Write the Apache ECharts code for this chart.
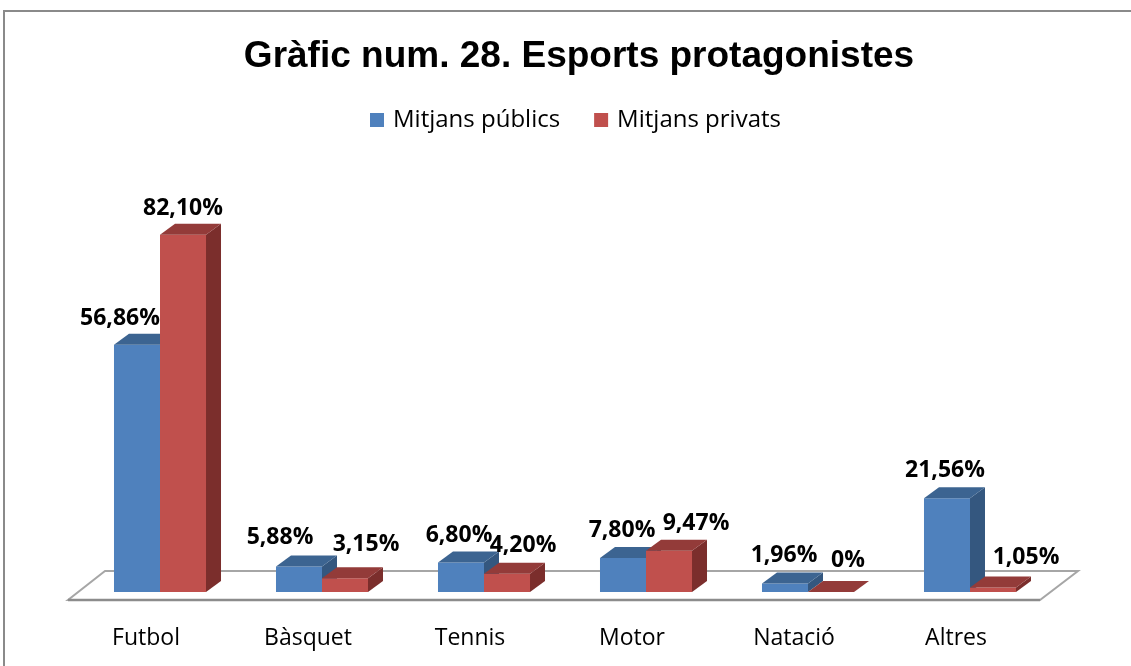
<!DOCTYPE html>
<html>
<head>
<meta charset="utf-8">
<script src="https://cdn.jsdelivr.net/npm/echarts@6/dist/echarts.min.js"></script>
<style>
  html, body { margin: 0; padding: 0; background: #fff; overflow: hidden; }
  #chart { width: 1131px; height: 666px; }
  .frame { position: absolute; left: 3px; top: 10px; width: 1200px; height: 700px;
           border: 2px solid #8a8a8a; pointer-events: none; box-sizing: border-box; }
</style>
</head>
<body>
<div id="chart"></div>
<div class="frame"></div>
<script>
var categories = ['Futbol', 'Bàsquet', 'Tennis', 'Motor', 'Natació', 'Altres'];
var publics = [56.86, 5.88, 6.80, 7.80, 1.96, 21.56];
var privats = [82.10, 3.15, 4.20, 9.47, 0, 1.05];
var seriesNames = ['Mitjans públics', 'Mitjans privats'];

// label nudges (px), the excel labels were moved by hand
var labelDx = [[-17, -19, -2, -1, -1, -2], [0, 21, 16, 27, 17, 33]];
var labelUp = [[15, 18, 16, 17, 17, 17], [15, 23, 17, 16, 21, 19]];

var colors = [
  { front: '#4f81bd', top: '#3c6491', side: '#34577f' },
  { front: '#c0504d', top: '#933b39', side: '#7b2e2c' }
];
var DX = 15, DY = 11;
var FONT = '"Open Sans", "Noto Sans", sans-serif';

function fmt(v) {
  return v === 0 ? '0%' : v.toFixed(2).replace('.', ',') + '%';
}

function barRenderer(s) {
  return function (params, api) {
    var i = api.value(0);
    var v = api.value(1);
    var base = api.coord([i, 0]);
    var top = api.coord([i, v]);
    var w = api.size([1, 0])[0] * 0.284;
    var x0 = s === 0 ? base[0] - w : base[0];
    var x1 = x0 + w;
    var yB = base[1], yT = top[1];
    var c = colors[s];
    var kids = [
      { type: 'polygon', shape: { points: [[x1, yT], [x1 + DX, yT - DY], [x1 + DX, yB - DY], [x1, yB]] },
        style: { fill: c.side } },
      { type: 'rect', shape: { x: x0, y: yT, width: w, height: yB - yT }, style: { fill: c.front } },
      { type: 'polygon', shape: { points: [[x0, yT], [x1, yT], [x1 + DX, yT - DY], [x0 + DX, yT - DY]] },
        style: { fill: c.top } },
      { type: 'text', z2: 10, style: {
          text: fmt(v), x: (x0 + x1) / 2 + labelDx[s][i], y: yT - DY - labelUp[s][i],
          align: 'center', verticalAlign: 'middle', fill: '#000',
          font: 'bold 23px ' + FONT } }
    ];
    return { type: 'group', children: kids };
  };
}

var chart = echarts.init(document.getElementById('chart'));
chart.setOption({
  animation: false,
  title: {
    text: 'Gràfic num. 28. Esports protagonistes',
    left: 574, top: 33, textAlign: 'center',
    textStyle: { fontFamily: 'Liberation Sans, Arial, sans-serif', fontWeight: 'bold', fontSize: 37, color: '#000' }
  },
  legend: {
    top: 103, left: 365,
    icon: 'rect', itemWidth: 14, itemHeight: 14, itemGap: 34,
    data: seriesNames,
    textStyle: { fontFamily: FONT, fontSize: 24, color: '#000', padding: [0, 0, 0, 4] }
  },
  grid: { left: 79, right: 80, top: 157, bottom: 74 },
  xAxis: {
    type: 'category', data: categories,
    axisLine: { show: false }, axisTick: { show: false },
    axisLabel: { margin: 35, padding: [0, 28, 0, 0], fontFamily: FONT, fontSize: 23, color: '#000' }
  },
  yAxis: { type: 'value', min: 0, max: 100, show: false, splitLine: { show: false } },
  series: [
    {
      type: 'custom', name: 'floor', z: 1, silent: true,
      data: [[0, 0]],
      renderItem: function (params, api) {
        var cs = params.coordSys;
        var y0 = api.coord([0, 0])[1];
        var l = cs.x, r = cs.x + cs.width;
        return {
          type: 'group', children: [
            { type: 'polygon', shape: { points: [[l + 26, y0 - 21], [r + 27, y0 - 21], [r - 11, y0 + 8], [l - 11, y0 + 8]] },
              style: { fill: '#fff', stroke: '#a6a6a6', lineWidth: 2 } },
            { type: 'line', shape: { x1: l - 11, y1: y0 + 8, x2: r - 11, y2: y0 + 8 },
              style: { stroke: '#8c8c8c', lineWidth: 2.5 } }
          ]
        };
      }
    },
    {
      type: 'custom', name: seriesNames[0], z: 2,
      itemStyle: { color: colors[0].front },
      data: publics.map(function (v, i) { return [i, v]; }),
      renderItem: barRenderer(0)
    },
    {
      type: 'custom', name: seriesNames[1], z: 3,
      itemStyle: { color: colors[1].front },
      data: privats.map(function (v, i) { return [i, v]; }),
      renderItem: barRenderer(1)
    }
  ]
});
</script>
</body>
</html>
